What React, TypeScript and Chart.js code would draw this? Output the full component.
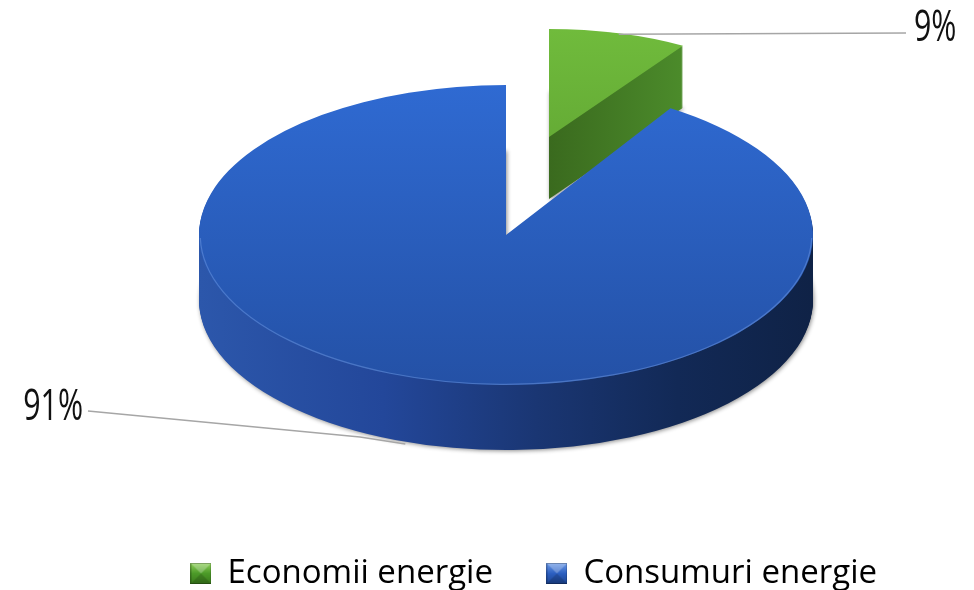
import React, { useEffect, useRef } from "react";
import { Chart, registerables } from "chart.js";

Chart.register(...registerables);

// ---- data ----
const categories = ["Economii energie", "Consumuri energie"];
const values = [9, 91];

// ---- style ----
const topColors = [
  ["#70bb3c", "#5a9d2f"],
  ["#2f6ad2", "#2451a6"],
];
const sideStops = [
  [
    [0, "#3a6a1e"],
    [1, "#4c8c2b"],
  ],
  [
    [0, "#2c57ab"],
    [0.3, "#23479a"],
    [0.55, "#1a3673"],
    [0.78, "#122956"],
    [1, "#0f2246"],
  ],
];
const legendColors = [
  ["#8fd05a", "#4c9a28", "#3a7a1c"],
  ["#6d9be8", "#2c5fc0", "#1c438f"],
];
// screen geometry for each slice (ellipse centre, radii, thickness)
const GEOM = [
  { cx: 549, cy: 137, rx: 250, ry: 108, depth: 62 },
  { cx: 506, cy: 235, rx: 307, ry: 150, depth: 65 },
];
const LABEL_FONT = "44px 'Open Sans', sans-serif";
const LABEL_SCALE_X = 0.69;
const LEGEND_SHIFT_Y = 10;

function makeLegendImage(cols: string[]) {
  const c = document.createElement("canvas");
  c.width = 21;
  c.height = 21;
  const x = c.getContext("2d")!;
  const g = x.createLinearGradient(0, 0, 0, 21);
  g.addColorStop(0, cols[0]);
  g.addColorStop(0.5, cols[1]);
  g.addColorStop(1, cols[2]);
  x.fillStyle = g;
  x.fillRect(0, 0, 21, 21);
  x.fillStyle = "rgba(255,255,255,0.25)";
  x.beginPath();
  x.moveTo(0, 0);
  x.lineTo(21, 0);
  x.lineTo(10.5, 10.5);
  x.closePath();
  x.fill();
  x.fillStyle = "rgba(0,0,0,0.15)";
  x.beginPath();
  x.moveTo(0, 21);
  x.lineTo(21, 21);
  x.lineTo(10.5, 10.5);
  x.closePath();
  x.fill();
  x.strokeStyle = "rgba(0,0,0,0.25)";
  x.lineWidth = 1;
  x.strokeRect(0.5, 0.5, 20, 20);
  return c;
}

const pie3d = {
  id: "pie3d",
  afterLayout(chart: any) {
    if (chart.legend) {
      chart.legend.top += LEGEND_SHIFT_Y;
      chart.legend.bottom += LEGEND_SHIFT_Y;
      if (chart.legend.legendHitBoxes) {
        chart.legend.legendHitBoxes.forEach((h: any) => (h.top += LEGEND_SHIFT_Y));
      }
    }
  },
  beforeDatasetsDraw(chart: any) {
    const meta = chart.getDatasetMeta(0);
    const ctx: CanvasRenderingContext2D = chart.ctx;
    meta.data.forEach((el: any, i: number) => {
      const g = GEOM[i];
      const r = el.outerRadius;
      const kx = g.rx / r;
      const ky = g.ry / r;
      const grad = ctx.createLinearGradient(
        i === 0 ? g.cx : g.cx - g.rx,
        0,
        i === 0 ? g.cx + g.rx * 0.55 : g.cx + g.rx,
        0
      );
      sideStops[i].forEach(([o, c]) => grad.addColorStop(o as number, c as string));
      for (let d = g.depth; d >= 1; d--) {
        ctx.save();
        ctx.translate(g.cx, g.cy + d);
        ctx.scale(kx, ky);
        ctx.translate(-el.x, -el.y);
        ctx.beginPath();
        ctx.moveTo(el.x, el.y);
        ctx.arc(el.x, el.y, r, el.startAngle, el.endAngle);
        ctx.closePath();
        ctx.restore();
        ctx.save();
        if (d === g.depth) {
          ctx.shadowColor = "rgba(0,0,0,0.45)";
          ctx.shadowBlur = 4;
          ctx.shadowOffsetX = 1;
          ctx.shadowOffsetY = 1;
        }
        ctx.fillStyle = grad;
        ctx.fill();
        ctx.restore();
      }
      ctx.save();
      ctx.translate(g.cx, g.cy);
      ctx.scale(kx, ky);
      ctx.translate(-el.x, -el.y);
      el.draw(ctx);
      ctx.restore();
      if (i === 1) {
        ctx.save();
        ctx.translate(g.cx, g.cy);
        ctx.scale(kx, ky);
        ctx.translate(-el.x, -el.y);
        ctx.beginPath();
        ctx.arc(el.x, el.y, r - 1, Math.max(el.startAngle, 0.02), Math.PI - 0.02);
        ctx.restore();
        ctx.strokeStyle = "rgba(120,160,230,0.45)";
        ctx.lineWidth = 1.2;
        ctx.stroke();
      }
    });
    return false;
  },
  afterDraw(chart: any) {
    const meta = chart.getDatasetMeta(0);
    const ctx: CanvasRenderingContext2D = chart.ctx;
    const total = values.reduce((a, b) => a + b, 0);
    meta.data.forEach((el: any, i: number) => {
      const g = GEOM[i];
      const mid = (el.startAngle + el.endAngle) / 2;
      const ax = g.cx + g.rx * Math.cos(mid);
      const ay = g.cy + g.ry * Math.sin(mid) + (i === 1 ? g.depth : 0);
      const txt = Math.round((values[i] / total) * 100) + "%";
      ctx.save();
      ctx.strokeStyle = "#a6a6a6";
      ctx.lineWidth = 1.5;
      ctx.beginPath();
      let tx: number, ty: number, align: CanvasTextAlign;
      if (i === 0) {
        ctx.moveTo(ax, ay + 1);
        ctx.lineTo(906, 33);
        tx = 914;
        ty = 41;
        align = "left";
      } else {
        ctx.moveTo(ax - 15, ay);
        ctx.lineTo(360, 437);
        ctx.lineTo(88, 411);
        tx = 83;
        ty = 420;
        align = "right";
      }
      ctx.stroke();
      ctx.translate(tx, ty);
      ctx.scale(LABEL_SCALE_X, 1);
      ctx.font = LABEL_FONT;
      ctx.fillStyle = "#111";
      ctx.textAlign = align;
      ctx.textBaseline = "alphabetic";
      ctx.fillText(txt, 0, 0);
      ctx.restore();
    });
  },
};

export default function App() {
  const ref = useRef<HTMLCanvasElement | null>(null);
  useEffect(() => {
    if (!ref.current) return;
    const imgs = legendColors.map(makeLegendImage);
    const chart = new Chart(ref.current, {
      type: "pie",
      data: {
        labels: categories,
        datasets: [
          {
            data: values,
            borderWidth: 0,
            backgroundColor: (c: any) => {
              const a = c.chart.chartArea;
              const i = c.dataIndex;
              if (!a) return topColors[i][0];
              const gr = c.chart.ctx.createLinearGradient(0, a.top, 0, a.bottom);
              gr.addColorStop(0, topColors[i][0]);
              gr.addColorStop(1, topColors[i][1]);
              return gr;
            },
          },
        ],
      },
      options: {
        animation: false,
        responsive: true,
        maintainAspectRatio: false,
        layout: { padding: { left: 94, bottom: 0, top: 10 } },
        plugins: {
          tooltip: { enabled: false },
          legend: {
            position: "bottom",
            labels: {
              usePointStyle: true,
              boxWidth: 20,
              padding: 54,
              font: { family: "'Open Sans', sans-serif", size: 33 },
              color: "#000",
              generateLabels: () =>
                categories.map((t, i) => ({
                  text: t,
                  fillStyle: legendColors[i][1],
                  strokeStyle: legendColors[i][1],
                  lineWidth: 0,
                  pointStyle: imgs[i],
                  hidden: false,
                  index: i,
                  datasetIndex: 0,
                })),
            },
          },
        },
      },
      plugins: [pie3d],
    } as any);
    return () => chart.destroy();
  }, []);
  return (
    <div style={{ position: "fixed", left: 0, top: 0, width: 974, height: 590, background: "#fff" }}>
      <canvas ref={ref} />
    </div>
  );
}
